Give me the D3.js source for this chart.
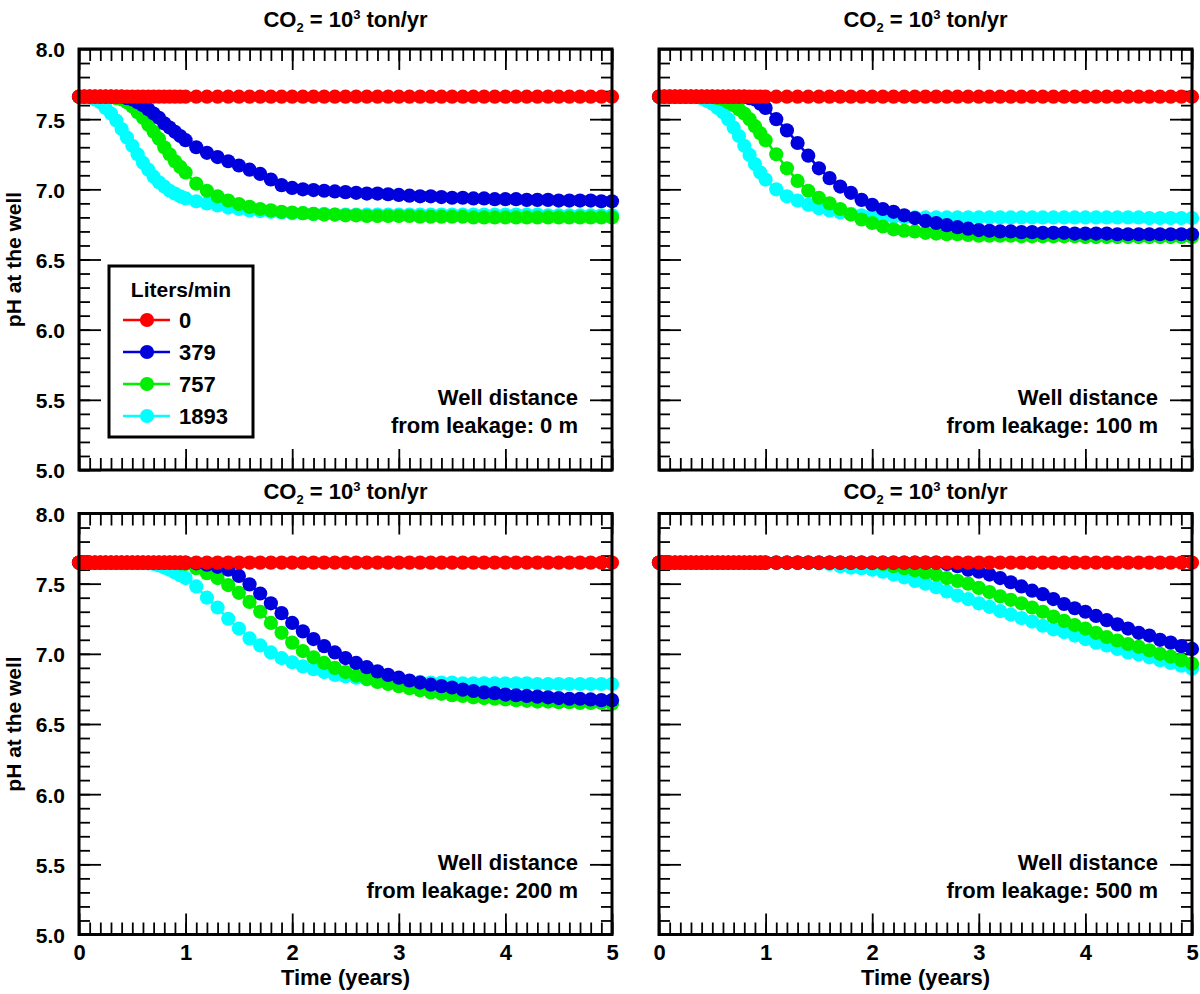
<!DOCTYPE html>
<html><head><meta charset="utf-8">
<script src="https://cdn.jsdelivr.net/npm/d3@7"></script>
<style>
body{margin:0;background:#fff}
svg text{font-family:"Liberation Sans",Arial,Helvetica,sans-serif;font-weight:bold;fill:#000}
</style>
</head><body>
<svg id="chart" width="1200" height="994"></svg>
<script>
// ---------------- DATA ----------------
const times = [0,0.05,0.1,0.15,0.2,0.25,0.3,0.35,0.4,0.45,0.5,0.55,0.6,0.65,0.7,0.75,0.8,0.85,0.9,0.95,1,
  1.1,1.2,1.3,1.4,1.5,1.6,1.7,1.8,1.9,2,
  2.1,2.2,2.3,2.4,2.5,2.6,2.7,2.8,2.9,3,
  3.1,3.2,3.3,3.4,3.5,3.6,3.7,3.8,3.9,4,
  4.1,4.2,4.3,4.4,4.5,4.6,4.7,4.8,4.9,5];

const flowRates = ["0","379","757","1893"];
const seriesColors = ["#ff0000","#0000dd","#00ee00","#00ffff"];
const distances = ["0 m","100 m","200 m","500 m"];
const xTickValues = [0,1,2,3,4,5];
const yTickValues = [5.0,5.5,6.0,6.5,7.0,7.5,8.0];

// pH, 0 L/min, top row (red)
const ph_top_0 = [7.66,7.66,7.66,7.66,7.66,7.66,7.66,7.66,7.66,7.66,7.66,7.66,7.66,7.66,7.66,7.66,7.66,7.66,7.66,7.66,7.66,
  7.66,7.66,7.66,7.66,7.66,7.66,7.66,7.66,7.66,7.66,
  7.66,7.66,7.66,7.66,7.66,7.66,7.66,7.66,7.66,7.66,
  7.66,7.66,7.66,7.66,7.66,7.66,7.66,7.66,7.66,7.66,
  7.66,7.66,7.66,7.66,7.66,7.66,7.66,7.66,7.66,7.66];
// pH, 0 L/min, bottom row (red)
const ph_bot_0 = [7.65,7.65,7.65,7.65,7.65,7.65,7.65,7.65,7.65,7.65,7.65,7.65,7.65,7.65,7.65,7.65,7.65,7.65,7.65,7.65,7.65,
  7.65,7.65,7.65,7.65,7.65,7.65,7.65,7.65,7.65,7.65,
  7.65,7.65,7.65,7.65,7.65,7.65,7.65,7.65,7.65,7.65,
  7.65,7.65,7.65,7.65,7.65,7.65,7.65,7.65,7.65,7.65,
  7.65,7.65,7.65,7.65,7.65,7.65,7.65,7.65,7.65,7.65];

// 0 m
const ph_0m_379 = [7.66,7.66,7.66,7.66,7.66,7.66,7.66,7.66,7.66,7.65,7.64,7.62,7.60,7.57,7.54,7.51,7.47,7.44,7.41,7.38,7.35,
  7.30,7.26,7.23,7.20,7.17,7.14,7.11,7.07,7.03,7.01,
  7.00,6.995,6.99,6.985,6.98,6.975,6.97,6.97,6.965,6.96,
  6.955,6.95,6.95,6.945,6.94,6.94,6.935,6.935,6.93,6.93,
  6.93,6.925,6.925,6.925,6.92,6.92,6.92,6.92,6.915,6.915];
const ph_0m_757 = [7.66,7.66,7.66,7.66,7.66,7.66,7.66,7.65,7.64,7.62,7.59,7.55,7.51,7.46,7.41,7.36,7.30,7.25,7.20,7.16,7.12,
  7.04,6.99,6.95,6.92,6.895,6.875,6.86,6.85,6.84,6.835,
  6.83,6.825,6.82,6.82,6.815,6.815,6.81,6.81,6.81,6.81,
  6.81,6.805,6.805,6.805,6.805,6.805,6.80,6.80,6.80,6.80,
  6.80,6.80,6.80,6.80,6.80,6.80,6.80,6.80,6.80,6.80];
const ph_0m_1893 = [7.66,7.66,7.66,7.64,7.62,7.58,7.54,7.49,7.43,7.37,7.31,7.25,7.19,7.14,7.09,7.05,7.02,6.99,6.97,6.95,6.935,
  6.915,6.90,6.885,6.87,6.86,6.85,6.845,6.84,6.835,6.83,
  6.83,6.825,6.825,6.82,6.82,6.82,6.82,6.82,6.82,6.82,
  6.82,6.82,6.82,6.82,6.82,6.82,6.82,6.82,6.82,6.82,
  6.82,6.82,6.82,6.815,6.815,6.815,6.815,6.815,6.815,6.815];

// 100 m
const ph_100m_379 = [7.66,7.66,7.66,7.66,7.66,7.66,7.66,7.66,7.66,7.66,7.66,7.66,7.66,7.66,7.66,7.66,7.66,7.65,7.64,7.61,7.58,
  7.50,7.42,7.33,7.24,7.15,7.08,7.02,6.975,6.925,6.89,
  6.86,6.84,6.815,6.795,6.775,6.76,6.745,6.73,6.72,6.71,
  6.705,6.70,6.70,6.695,6.695,6.69,6.69,6.69,6.685,6.685,
  6.685,6.685,6.68,6.68,6.68,6.68,6.68,6.68,6.68,6.68];
const ph_100m_757 = [7.66,7.66,7.66,7.66,7.66,7.66,7.66,7.66,7.66,7.66,7.66,7.65,7.64,7.62,7.60,7.57,7.54,7.50,7.45,7.40,7.35,
  7.25,7.15,7.06,6.99,6.94,6.90,6.86,6.82,6.785,6.76,
  6.735,6.715,6.705,6.70,6.69,6.685,6.68,6.68,6.675,6.67,
  6.67,6.67,6.67,6.665,6.665,6.665,6.665,6.665,6.665,6.66,
  6.66,6.66,6.66,6.66,6.66,6.66,6.66,6.66,6.66,6.66];
const ph_100m_1893 = [7.66,7.66,7.66,7.66,7.66,7.66,7.66,7.66,7.65,7.63,7.61,7.58,7.55,7.50,7.44,7.38,7.31,7.245,7.18,7.12,7.07,
  7.00,6.95,6.92,6.89,6.865,6.85,6.835,6.825,6.815,6.81,
  6.81,6.805,6.80,6.80,6.80,6.80,6.80,6.80,6.80,6.80,
  6.80,6.80,6.80,6.80,6.80,6.80,6.80,6.80,6.80,6.80,
  6.80,6.80,6.80,6.80,6.80,6.795,6.795,6.795,6.795,6.795];

// 200 m
const ph_200m_379 = [7.65,7.65,7.65,7.65,7.65,7.65,7.65,7.65,7.65,7.65,7.65,7.65,7.65,7.65,7.65,7.65,7.65,7.65,7.65,7.65,7.65,
  7.645,7.635,7.62,7.60,7.555,7.495,7.43,7.36,7.29,7.22,
  7.16,7.105,7.055,7.01,6.97,6.935,6.905,6.875,6.85,6.83,
  6.81,6.795,6.78,6.77,6.76,6.745,6.735,6.725,6.72,6.71,
  6.705,6.70,6.695,6.69,6.685,6.68,6.68,6.675,6.67,6.67];
const ph_200m_757 = [7.65,7.65,7.65,7.65,7.65,7.65,7.65,7.65,7.65,7.65,7.65,7.65,7.65,7.65,7.65,7.65,7.65,7.65,7.65,7.645,7.64,
  7.61,7.575,7.54,7.49,7.435,7.37,7.30,7.22,7.15,7.08,
  7.02,6.975,6.935,6.90,6.87,6.845,6.82,6.80,6.785,6.77,
  6.755,6.74,6.725,6.715,6.705,6.70,6.69,6.685,6.68,6.675,
  6.67,6.665,6.66,6.66,6.655,6.655,6.65,6.65,6.65,6.645];
const ph_200m_1893 = [7.65,7.65,7.65,7.65,7.65,7.65,7.65,7.65,7.65,7.65,7.65,7.65,7.65,7.645,7.64,7.63,7.615,7.60,7.58,7.56,7.54,
  7.48,7.40,7.33,7.25,7.18,7.11,7.06,7.01,6.97,6.94,
  6.91,6.89,6.87,6.85,6.84,6.83,6.82,6.815,6.81,6.805,
  6.80,6.80,6.795,6.795,6.795,6.79,6.79,6.79,6.79,6.79,
  6.79,6.79,6.785,6.785,6.785,6.785,6.785,6.785,6.785,6.785];

// 500 m
const ph_500m_379 = [7.65,7.65,7.65,7.65,7.65,7.65,7.65,7.65,7.65,7.65,7.65,7.65,7.65,7.65,7.65,7.65,7.65,7.65,7.65,7.65,7.65,
  7.65,7.65,7.65,7.65,7.65,7.65,7.65,7.65,7.65,7.65,
  7.65,7.65,7.65,7.65,7.65,7.65,7.64,7.625,7.60,7.585,
  7.565,7.54,7.51,7.48,7.45,7.425,7.39,7.355,7.325,7.30,
  7.27,7.24,7.21,7.18,7.15,7.13,7.10,7.08,7.055,7.035];
const ph_500m_757 = [7.65,7.65,7.65,7.65,7.65,7.65,7.65,7.65,7.65,7.65,7.65,7.65,7.65,7.65,7.65,7.65,7.65,7.65,7.65,7.65,7.65,
  7.65,7.65,7.65,7.65,7.65,7.65,7.65,7.65,7.65,7.645,
  7.64,7.625,7.61,7.595,7.58,7.565,7.54,7.52,7.50,7.47,
  7.44,7.41,7.385,7.36,7.33,7.30,7.265,7.235,7.205,7.18,
  7.15,7.12,7.095,7.07,7.05,7.025,7.00,6.98,6.955,6.93];
const ph_500m_1893 = [7.65,7.65,7.65,7.65,7.65,7.65,7.65,7.65,7.65,7.65,7.65,7.65,7.65,7.65,7.65,7.65,7.65,7.65,7.65,7.65,7.65,
  7.65,7.65,7.65,7.65,7.645,7.64,7.625,7.615,7.61,7.60,
  7.585,7.565,7.545,7.52,7.50,7.475,7.445,7.415,7.39,7.36,
  7.335,7.305,7.28,7.255,7.23,7.20,7.175,7.155,7.13,7.105,
  7.08,7.06,7.035,7.01,6.995,6.975,6.955,6.935,6.915,6.895];

// ---------------- LAYOUT ----------------
const svg = d3.select("#chart");
const W = 533, H = 421;
const lefts = [79, 659];
const tops = [49, 513.5];
const FONT = 21;
const R = 7.1;

const panels = [
  {dist: distances[0], col:0, row:0, series:[ph_top_0, ph_0m_379, ph_0m_757, ph_0m_1893], legend:true},
  {dist: distances[1], col:1, row:0, series:[ph_top_0, ph_100m_379, ph_100m_757, ph_100m_1893]},
  {dist: distances[2], col:0, row:1, series:[ph_bot_0, ph_200m_379, ph_200m_757, ph_200m_1893]},
  {dist: distances[3], col:1, row:1, series:[ph_bot_0, ph_500m_379, ph_500m_757, ph_500m_1893]}
];

const minorX = d3.range(0, 51).map(d => d / 10);
const minorY = d3.range(50, 81).map(d => d / 10);

function styleAxis(sel, width) {
  sel.select(".domain").remove();
  sel.selectAll(".tick line").attr("stroke", "#000").attr("stroke-width", width || 1.8);
}

panels.forEach(p => {
  const g = svg.append("g").attr("transform", `translate(${lefts[p.col]},${tops[p.row]})`);
  const x = d3.scaleLinear().domain([0, 5]).range([0, W]);
  const y = d3.scaleLinear().domain([5, 8]).range([H, 0]);

  // ticks on all four sides, pointing inward
  g.append("g").call(d3.axisRight(y).tickValues(minorY).tickSize(11).tickFormat("")).call(styleAxis);
  g.append("g").call(d3.axisRight(y).tickValues(yTickValues).tickSize(22).tickFormat("")).call(styleAxis);
  g.append("g").attr("transform", `translate(${W},0)`).call(d3.axisLeft(y).tickValues(minorY).tickSize(11).tickFormat("")).call(styleAxis);
  g.append("g").attr("transform", `translate(${W},0)`).call(d3.axisLeft(y).tickValues(yTickValues).tickSize(22).tickFormat("")).call(styleAxis);
  g.append("g").call(d3.axisBottom(x).tickValues(minorX).tickSize(12).tickFormat("")).call(styleAxis);
  g.append("g").call(d3.axisBottom(x).tickValues(xTickValues).tickSize(21).tickFormat("")).call(styleAxis);
  g.append("g").attr("transform", `translate(0,${H})`).call(d3.axisTop(x).tickValues(minorX).tickSize(12).tickFormat("")).call(styleAxis);
  g.append("g").attr("transform", `translate(0,${H})`).call(d3.axisTop(x).tickValues(xTickValues).tickSize(21).tickFormat("")).call(styleAxis);

  // tick labels
  if (p.col === 0) {
    const yl = g.append("g").call(d3.axisLeft(y).tickValues(yTickValues).tickSize(0).tickPadding(14).tickFormat(d3.format(".1f")));
    yl.select(".domain").remove();
    yl.selectAll("text").attr("font-size", FONT).attr("font-family", "Liberation Sans, Arial, sans-serif").attr("font-weight", "bold").attr("fill", "#000").attr("dy", "0.38em");
    g.append("text")
      .attr("transform", `translate(${21 - lefts[0]},${H / 2}) rotate(-90)`)
      .attr("text-anchor", "middle").attr("font-size", FONT)
      .text("pH at the well");
  }
  if (p.row === 1) {
    const xl = g.append("g").attr("transform", `translate(0,${H})`).call(d3.axisBottom(x).tickValues(xTickValues).tickSize(0).tickPadding(10).tickFormat(d3.format("d")));
    xl.select(".domain").remove();
    xl.selectAll("text").attr("font-size", 22).attr("font-family", "Liberation Sans, Arial, sans-serif").attr("font-weight", "bold").attr("fill", "#000");
    g.append("text").attr("x", W / 2).attr("y", 985 - tops[1])
      .attr("text-anchor", "middle").attr("font-size", 22).text("Time (years)");
  }

  // series: drawn cyan, green, blue, red (red on top)
  const line = d3.line().x((d, i) => x(times[i])).y(d => y(d));
  [3, 2, 1, 0].forEach(si => {
    const vals = p.series[si];
    g.append("path").datum(vals).attr("d", line)
      .attr("fill", "none").attr("stroke", seriesColors[si]).attr("stroke-width", 2.5);
    g.append("g").selectAll("circle").data(vals).join("circle")
      .attr("cx", (d, i) => x(times[i])).attr("cy", d => y(d))
      .attr("r", R).attr("fill", seriesColors[si]);
  });

  // frame
  g.append("rect").attr("x", 0).attr("y", 0).attr("width", W).attr("height", H)
    .attr("fill", "none").attr("stroke", "#000").attr("stroke-width", 3);

  // title
  const t = g.append("text").attr("x", W / 2).attr("y", p.row === 0 ? -22 : -15)
    .attr("text-anchor", "middle").attr("font-size", 22);
  t.append("tspan").text("CO");
  t.append("tspan").attr("font-size", 13).attr("dy", 5).text("2");
  t.append("tspan").attr("dy", -5).text(" = 10");
  t.append("tspan").attr("font-size", 13).attr("dy", -8).text("3");
  t.append("tspan").attr("dy", 8).text(" ton/yr");

  // annotation
  g.append("text").attr("x", W - 34).attr("y", H - 65).attr("text-anchor", "end").attr("font-size", 22).text("Well distance");
  g.append("text").attr("x", W - 34).attr("y", H - 37).attr("text-anchor", "end").attr("font-size", 22).text("from leakage: " + p.dist);

  // legend
  if (p.legend) {
    const lx = 109 - lefts[0], ly = 266 - tops[0];
    const lg = g.append("g").attr("transform", `translate(${lx},${ly})`);
    lg.append("rect").attr("width", 144).attr("height", 171).attr("fill", "#fff").attr("stroke", "#000").attr("stroke-width", 3);
    lg.append("text").attr("x", 72).attr("y", 31).attr("text-anchor", "middle").attr("font-size", 21).text("Liters/min");
    flowRates.forEach((fr, i) => {
      const ry = 54 + i * 32;
      lg.append("line").attr("x1", 14).attr("x2", 61).attr("y1", ry).attr("y2", ry).attr("stroke", seriesColors[i]).attr("stroke-width", 2.5);
      lg.append("circle").attr("cx", 38).attr("cy", ry).attr("r", R).attr("fill", seriesColors[i]);
      lg.append("text").attr("x", 70).attr("y", ry + 8).attr("font-size", 22).text(fr);
    });
  }
});
</script>
</body></html>
